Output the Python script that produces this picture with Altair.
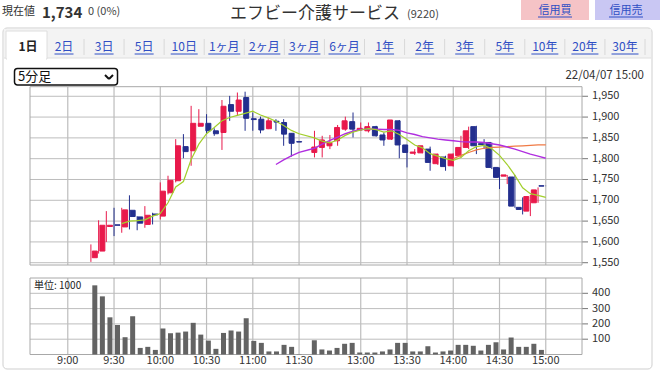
import altair as alt
import pandas as pd

# ---------------- data ----------------
slots = list(range(3, 31)) + list(range(32, 63))
opens = [1562, 1578, 1637, 1641, 1636, 1676, 1660, 1642, 1667, 1662, 1718, 1747, 1829, 1819,
         1878, 1885, 1867, 1863, 1930, 1914, 1947, 1896, 1895, 1872, 1890, 1887, 1861, 1841,
         1815, 1827, 1831, 1843, 1871, 1889, 1869, 1867, 1877, 1857, 1847, 1891, 1833, 1813,
         1814, 1823, 1788, 1804, 1783, 1807, 1827, 1877, 1836, 1839, 1779, 1758, 1756, 1683,
         1674, 1694, 1735]
highs = [1594, 1652, 1674, 1682, 1682, 1712, 1662, 1686, 1670, 1743, 1759, 1847, 1859, 1927,
         1919, 1907, 1873, 1941, 1951, 1959, 1961, 1911, 1901, 1899, 1895, 1895, 1861, 1841,
         1867, 1855, 1857, 1881, 1901, 1911, 1887, 1887, 1879, 1863, 1893, 1893, 1833, 1823,
         1831, 1829, 1812, 1807, 1813, 1855, 1877, 1879, 1847, 1839, 1779, 1761, 1761, 1707,
         1713, 1731, 1735]
lows = [1552, 1572, 1600, 1614, 1622, 1630, 1628, 1634, 1642, 1654, 1714, 1743, 1801, 1783,
        1877, 1859, 1855, 1821, 1891, 1903, 1867, 1867, 1861, 1871, 1867, 1831, 1805, 1840,
        1803, 1803, 1823, 1831, 1867, 1851, 1867, 1863, 1853, 1831, 1845, 1801, 1779, 1809,
        1813, 1771, 1785, 1771, 1781, 1803, 1823, 1811, 1823, 1775, 1727, 1739, 1682, 1666,
        1662, 1694, 1734]
closes = [1578, 1640, 1640, 1640, 1677, 1661, 1645, 1664, 1665, 1722, 1748, 1831, 1817, 1885,
          1885, 1867, 1860, 1926, 1914, 1941, 1897, 1894, 1869, 1891, 1888, 1859, 1837, 1840,
          1828, 1845, 1839, 1875, 1891, 1871, 1873, 1877, 1855, 1845, 1893, 1833, 1815, 1816,
          1831, 1791, 1811, 1781, 1811, 1827, 1867, 1831, 1834, 1779, 1755, 1761, 1686, 1678,
          1709, 1725, 1734]
volumes = [452, 380, 243, 193, 113, 250, 43, 50, 30, 170, 139, 143, 150, 207, 130, 91, 37, 141,
           157, 150, 237, 89, 76, 20, 20, 63, 50, 2,
           93, 33, 26, 43, 70, 76, 13, 13, 13, 20, 33, 76, 76, 20, 20, 54, 13, 20, 26, 63, 63,
           57, 26, 63, 80, 33, 111, 50, 50, 70, 30]

ma5_slots = list(range(7, 31)) + list(range(32, 63))
ma5_vals = [1644, 1650, 1651, 1653, 1662, 1668, 1694, 1732, 1745, 1798, 1835, 1860, 1875, 1891,
            1899, 1904, 1909, 1914, 1905, 1898, 1890, 1880, 1868, 1860,
            1850, 1842, 1838, 1845, 1856, 1864, 1869, 1872, 1870, 1864, 1867, 1858, 1846, 1833,
            1826, 1812, 1806, 1800, 1796, 1803, 1819, 1829, 1832, 1824, 1808, 1786, 1760, 1730,
            1716, 1712, 1707]
ma25_slots = list(range(27, 31)) + list(range(32, 63))
ma25_vals = [1786, 1797, 1807, 1815,
             1825, 1835, 1844, 1852, 1860, 1866, 1870, 1871, 1871, 1870, 1870, 1868, 1862, 1858,
             1853, 1850, 1847, 1845, 1843, 1841, 1840, 1840, 1839, 1836, 1833, 1828, 1823, 1817,
             1811, 1806, 1801]
ma3_slots = list(range(50, 63))
ma3_vals = [1800, 1808, 1815, 1821, 1825, 1827, 1828, 1829, 1830, 1831, 1832, 1833, 1833]

price_ticks = [1550, 1600, 1650, 1700, 1750, 1800, 1850, 1900, 1950]
price_labels = ["1,550", "1,600", "1,650", "1,700", "1,750", "1,800", "1,850", "1,900", "1,950"]
vol_ticks = [100, 200, 300, 400]
vol_labels = ["100", "200", "300", "400"]
time_slots = [0, 6, 12, 18, 24, 30, 38, 44, 50, 56, 62]
time_labels = ["9:00", "9:30", "10:00", "10:30", "11:00", "11:30",
               "13:00", "13:30", "14:00", "14:30", "15:00"]
tabs = ["2日", "3日", "5日", "10日", "1ヶ月", "2ヶ月", "3ヶ月", "6ヶ月",
        "1年", "2年", "3年", "5年", "10年", "20年", "30年"]

# ---------------- styling ----------------
JP = "Noto Sans CJK JP"
RED = "#e8194b"
BLUE = "#232f8e"
GRID = "#bdbdbd"
LINK = "#2f4ec4"

XS = alt.Scale(domain=[-4.9, 66.7], range=[30, 582], nice=False, zero=False)
YP = alt.Scale(domain=[1544.5, 1973], range=[265, 86.7], nice=False, zero=False)
YV = alt.Scale(domain=[0, 500], range=[354.5, 278], nice=False, zero=False)

one = pd.DataFrame({"k": [0]})


def rect(x, x2, y, y2, **kw):
    return alt.Chart(one).mark_rect(**kw).encode(
        x=alt.value(x), x2=alt.value(x2), y=alt.value(y), y2=alt.value(y2))


def rule(x, x2, y, y2, **kw):
    return alt.Chart(one).mark_rule(**kw).encode(
        x=alt.value(x), x2=alt.value(x2), y=alt.value(y), y2=alt.value(y2))


def text(s, x, y, **kw):
    kw.setdefault("font", JP)
    kw.setdefault("baseline", "middle")
    kw.setdefault("align", "left")
    return alt.Chart(one).mark_text(text=s, **kw).encode(x=alt.value(x), y=alt.value(y))


candles = pd.DataFrame({"s": slots, "o": opens, "h": highs, "l": lows, "c": closes})
candles["dir"] = ["up" if c > o else "down" for o, c in zip(opens, closes)]
vol = pd.DataFrame({"s": slots, "v": volumes})
ma5 = pd.DataFrame({"s": ma5_slots, "p": ma5_vals})
ma25 = pd.DataFrame({"s": ma25_slots, "p": ma25_vals})
ma3 = pd.DataFrame({"s": ma3_slots, "p": ma3_vals})
pt = pd.DataFrame({"p": price_ticks, "lab": price_labels})
vt = pd.DataFrame({"v": vol_ticks, "lab": vol_labels})
tt = pd.DataFrame({"s": time_slots, "lab": time_labels})


def half_w(t):
    if "ヶ" in t:
        return 16
    return 13.5 if len(t) == 3 else 9.5


tabdf = pd.DataFrame({"tab": tabs, "half": [half_w(t) for t in tabs]})
TABX = alt.X("tab:N", scale=alt.Scale(type="point", domain=tabs, range=[64, 625], padding=0),
             sort=None, axis=None)

layers = []

# ---- page header ----
layers += [
    text("現在値", 2, 12, fontSize=11, color="#333"),
    text("1,734", 42, 12.5, fontSize=15, fontWeight="bold", color="#333"),
    text("0 (0%)", 88, 12, fontSize=11, color="#444"),
    text("エフビー介護サービス", 230, 13.5, fontSize=17, color="#333"),
    text("(9220)", 407, 15, fontSize=11, color="#444"),
    rect(521, 589, 0, 20, fill="#f5c3c6"),
    rect(595, 660, 0, 20, fill="#c9c7f3"),
    text("信用買", 555, 10.5, fontSize=11, color=LINK, align="center"),
    text("信用売", 626, 10.5, fontSize=11, color=LINK, align="center"),
    rule(538, 572, 17, 17, color=LINK, strokeWidth=1),
    rule(609, 643, 17, 17, color=LINK, strokeWidth=1),
]

# ---- container and tabs ----
layers += [
    rect(3, 652, 28, 369, fill="white", stroke="#cfcfcf", strokeWidth=1, cornerRadius=4),
    rect(4, 651, 29, 58, fill="#f3f3f3"),
    rule(4, 651, 58, 58, color="#dedede"),
    rect(6, 47, 31, 59, fill="white", stroke="#dedede", strokeWidth=1),
    rect(7, 46, 55, 60, fill="white"),
    text("1日", 28, 47, fontSize=12, fontWeight="bold", color="#222", align="center"),
    alt.Chart(tabdf).mark_text(font=JP, fontSize=12, color=LINK, baseline="middle").encode(
        x=TABX, y=alt.value(47), text="tab:N"),
    alt.Chart(tabdf).mark_rule(color="#d8d8d8", xOffset=20, x2Offset=20).encode(
        x=TABX, x2=alt.X2("tab"), y=alt.value(39), y2=alt.value(55)),
]
for h in sorted(set(tabdf["half"])):
    layers.append(
        alt.Chart(tabdf).transform_filter(alt.datum.half == h).mark_rule(
            color=LINK, xOffset=-h, x2Offset=h, strokeWidth=1).encode(
            x=TABX, x2=alt.X2("tab"), y=alt.value(54), y2=alt.value(54)))

# ---- dropdown and date ----
layers += [
    rect(14.5, 117.5, 68.5, 85, fill="white", stroke="#111", strokeWidth=1.5, cornerRadius=3),
    text("5分足", 18, 77, fontSize=13, color="#111"),
    rule(105, 109, 75, 79, color="#111", strokeWidth=2),
    rule(109, 113, 79, 75, color="#111", strokeWidth=2),
    text("22/04/07 15:00", 644, 76, fontSize=11.5, color="#333", align="right"),
]

# ---- price panel grid ----
layers += [
    alt.Chart(pt).mark_rule(color=GRID, strokeWidth=1).encode(
        y=alt.Y("p:Q", scale=YP, axis=None), x=alt.value(30), x2=alt.value(582)),
    alt.Chart(pt).mark_rule(color="#777", strokeWidth=1).encode(
        y=alt.Y("p:Q", scale=YP, axis=None), x=alt.value(582), x2=alt.value(588)),
    alt.Chart(pt).mark_text(font=JP, fontSize=11, color="#333", align="left", baseline="middle").encode(
        y=alt.Y("p:Q", scale=YP, axis=None), x=alt.value(592), text="lab:N"),
    alt.Chart(tt).mark_rule(color=GRID, strokeWidth=1.2).encode(
        x=alt.X("s:Q", scale=XS, axis=None), y=alt.value(86.7), y2=alt.value(265)),
    rect(30, 582, 86.7, 265, fillOpacity=0, stroke="#a8a8a8", strokeWidth=1),
]

# ---- volume panel grid ----
layers += [
    alt.Chart(vt).mark_rule(color=GRID, strokeWidth=1).encode(
        y=alt.Y("v:Q", scale=YV, axis=None), x=alt.value(30), x2=alt.value(582)),
    alt.Chart(vt).mark_rule(color="#777", strokeWidth=1).encode(
        y=alt.Y("v:Q", scale=YV, axis=None), x=alt.value(582), x2=alt.value(588)),
    alt.Chart(vt).mark_text(font=JP, fontSize=11, color="#333", align="left", baseline="middle").encode(
        y=alt.Y("v:Q", scale=YV, axis=None), x=alt.value(592), text="lab:N"),
    alt.Chart(tt).mark_rule(color=GRID, strokeWidth=1.2).encode(
        x=alt.X("s:Q", scale=XS, axis=None), y=alt.value(278), y2=alt.value(354.5)),
    alt.Chart(tt).mark_text(font=JP, fontSize=11, color="#333", align="center", baseline="middle").encode(
        x=alt.X("s:Q", scale=XS, axis=None), y=alt.value(361), text="lab:N"),
    rect(30, 582, 278, 354.5, fillOpacity=0, stroke="#a8a8a8", strokeWidth=1),
    text("単位: 1000", 34, 286, fontSize=10, color="#222"),
]

# ---- volume bars ----
layers.append(
    alt.Chart(vol).mark_bar(size=5, color="#636363").encode(
        x=alt.X("s:Q", scale=XS, axis=None),
        y=alt.Y("v:Q", scale=YV, axis=None),
        y2=alt.datum(0)))

# ---- candles ----
CS = alt.Scale(domain=["up", "down"], range=[RED, BLUE])
layers += [
    alt.Chart(candles).mark_rule(strokeWidth=1).encode(
        x=alt.X("s:Q", scale=XS, axis=None),
        y=alt.Y("l:Q", scale=YP, axis=None), y2="h:Q",
        color=alt.Color("dir:N", scale=CS, legend=None)),
    alt.Chart(candles).mark_bar(size=5, strokeWidth=1).encode(
        x=alt.X("s:Q", scale=XS, axis=None),
        y=alt.Y("o:Q", scale=YP, axis=None), y2="c:Q",
        color=alt.Color("dir:N", scale=CS, legend=None),
        stroke=alt.Stroke("dir:N", scale=CS, legend=None)),
]

# ---- moving average lines ----
layers += [
    alt.Chart(ma3).mark_line(color="#f07a45", strokeWidth=1.2).encode(
        x=alt.X("s:Q", scale=XS, axis=None), y=alt.Y("p:Q", scale=YP, axis=None)),
    alt.Chart(ma25).mark_line(color="#b02ee0", strokeWidth=1.4).encode(
        x=alt.X("s:Q", scale=XS, axis=None), y=alt.Y("p:Q", scale=YP, axis=None)),
    alt.Chart(ma5).mark_line(color="#a2cf2c", strokeWidth=1.2).encode(
        x=alt.X("s:Q", scale=XS, axis=None), y=alt.Y("p:Q", scale=YP, axis=None)),
]

chart = alt.layer(*layers).resolve_scale(
    x="independent", y="independent", color="independent", stroke="independent"
).properties(
    width=660, height=372, autosize=alt.AutoSizeParams(type="none"), padding=0,
    background="white"
).configure_view(stroke=None)

chart.save("out.html", embed_options={"renderer": "svg", "actions": False})
